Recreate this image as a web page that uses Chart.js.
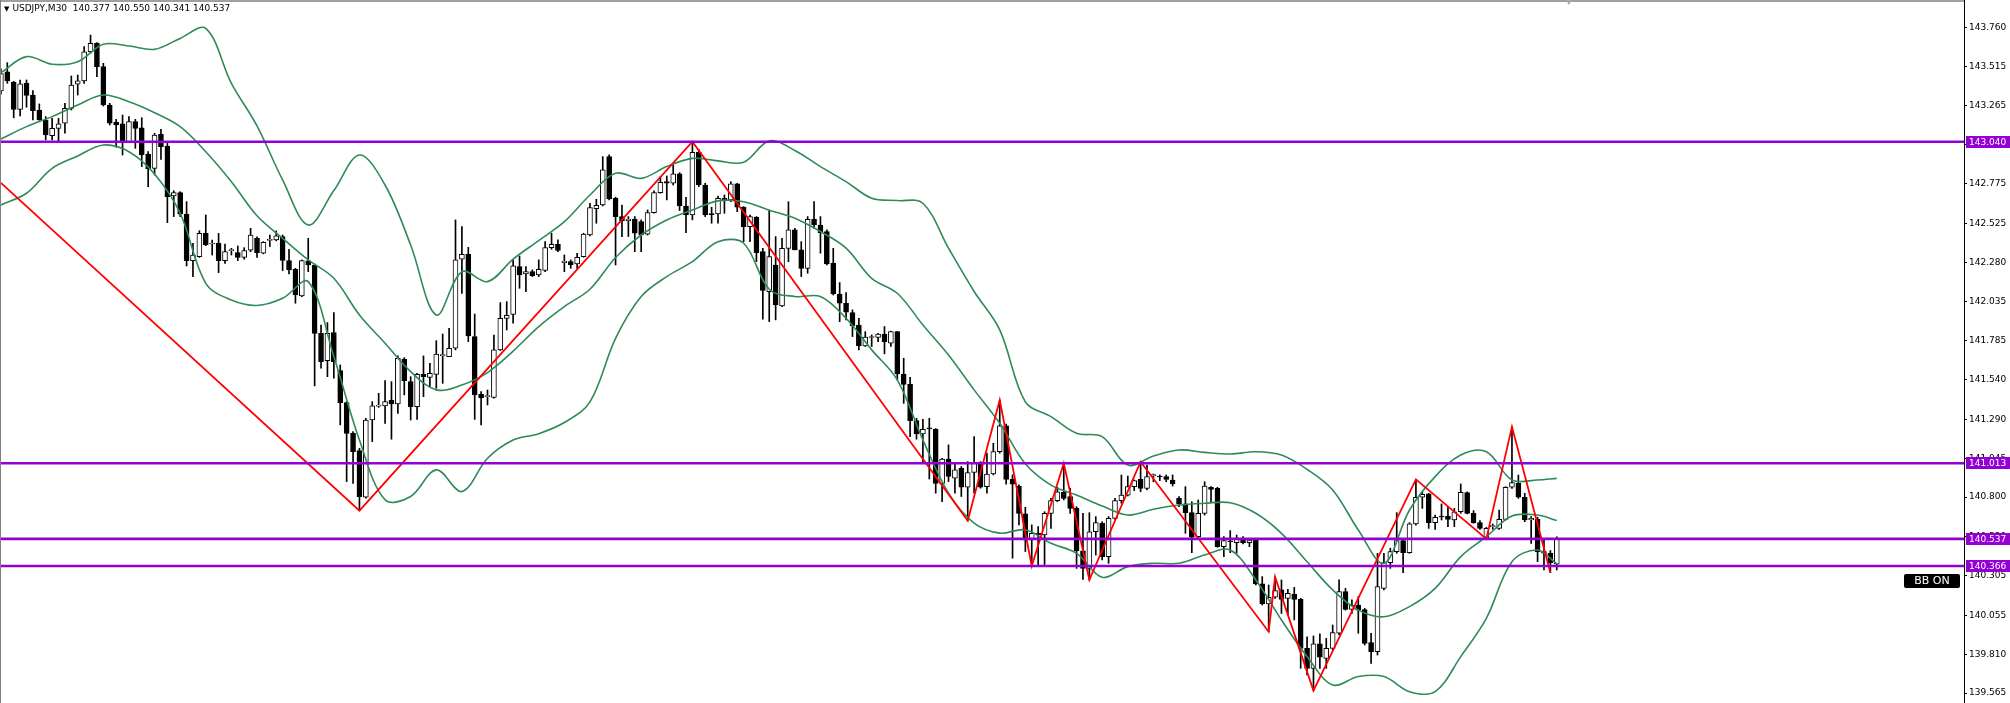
<!DOCTYPE html>
<html>
<head>
<meta charset="utf-8">
<title>USDJPY,M30</title>
<script src="https://cdn.jsdelivr.net/npm/chart.js@4.4.1/dist/chart.umd.min.js"></script>
<style>
  html, body { margin: 0; padding: 0; background: #fff; }
  #wrap { position: relative; width: 2010px; height: 703px; overflow: hidden; }
  #title { position: absolute; left: 4px; top: 2px; font: 9px "DejaVu Sans"; color: #000; white-space: pre; line-height: 13px; }
  #title .tri { font-size: 7px; margin-right: 3px; }
  #bbon { position: absolute; left: 1904px; top: 574px; width: 56px; height: 14px; background: #000; color: #fff;
          border-radius: 2px; font: 11px "DejaVu Sans"; text-align: center; line-height: 14px; }
  #shift { position: absolute; left: 1565px; top: -5px; color: #a8a8a8; font: 10px "DejaVu Sans"; }
</style>
</head>
<body>
<div id="wrap">
  <canvas id="chart" width="2010" height="703"></canvas>
  <div id="title"></div>
  <div id="shift">▼</div>
  <div id="bbon">BB ON</div>
</div>
<script>
// USDJPY M30 candles, left to right
const symbol = "USDJPY";
const timeframe = "M30";

const opens = [
  143.36,143.481,143.416,143.244,143.408,143.334,143.240,143.177,143.078,143.124,
  143.156,143.250,143.402,143.423,143.607,143.660,143.513,143.271,143.162,143.152,
  143.040,143.166,143.128,142.960,142.872,143.086,143.013,142.698,142.719,142.584,
  142.290,142.315,142.462,142.395,142.399,142.290,142.353,142.341,142.311,142.357,
  142.431,142.337,142.418,142.421,142.442,142.291,142.236,142.068,142.289,142.263,
  141.832,141.660,141.837,141.597,141.396,141.202,141.093,140.799,141.286,141.373,
  141.375,141.412,141.387,141.669,141.528,141.370,141.574,141.555,141.574,141.692,
  141.685,141.738,142.299,142.330,141.811,141.448,141.433,141.429,141.728,141.927,
  141.952,142.253,142.207,142.221,142.200,142.228,142.372,142.393,142.278,142.284,
  142.270,142.316,142.452,142.618,142.641,142.946,142.683,142.568,142.541,142.553,
  142.536,142.457,142.593,142.719,142.788,142.778,142.837,142.635,142.578,142.973,
  142.767,142.585,142.585,142.683,142.673,142.774,142.627,142.505,142.564,142.347,
  142.095,142.263,142.005,142.368,142.484,142.358,142.242,142.551,142.515,142.473,
  142.274,142.080,142.022,141.963,141.885,141.753,141.806,141.806,141.827,141.770,
  141.843,141.576,141.511,141.282,141.198,141.232,141.228,140.887,141.039,140.919,
  140.982,140.862,140.955,141.013,140.866,140.946,141.087,141.249,140.912,140.870,
  140.694,140.530,140.572,140.561,140.698,140.778,140.830,140.803,140.729,140.462,
  140.351,140.582,140.635,140.425,140.666,140.778,140.813,140.866,140.912,140.855,
  140.935,140.929,140.929,140.908,140.792,140.757,140.702,140.551,140.698,140.862,
  140.855,140.488,140.521,140.513,140.538,140.513,140.530,140.253,140.127,140.169,
  140.215,140.162,140.189,140.156,139.847,139.721,139.875,139.784,139.847,139.942,
  140.204,140.093,140.120,140.092,139.883,139.826,140.225,140.387,140.457,140.526,
  140.450,140.631,140.799,140.820,140.639,140.679,140.681,140.656,140.708,140.828,
  140.698,140.639,140.540,140.614,140.603,140.660,140.862,140.887,140.799,140.656,
  140.660,140.457,140.446,140.377
];
const highs = [
  143.50,143.538,143.420,143.429,143.429,143.362,143.278,143.198,143.187,143.187,
  143.282,143.454,143.460,143.639,143.712,143.664,143.534,143.282,143.181,143.208,
  143.198,143.181,143.191,142.977,143.093,143.118,143.040,142.731,142.725,142.662,
  142.399,142.479,142.578,142.420,142.462,142.395,142.368,142.383,142.372,142.494,
  142.441,142.410,142.452,142.478,142.452,142.362,142.242,142.295,142.431,142.269,
  141.885,141.900,141.963,141.633,141.402,141.213,141.108,141.297,141.402,141.454,
  141.534,141.528,141.690,141.679,141.559,141.580,141.690,141.643,141.786,141.828,
  141.864,142.547,142.505,142.374,141.954,141.465,141.475,141.822,142.026,142.032,
  142.295,142.320,142.253,142.232,142.295,142.410,142.463,142.421,142.326,142.295,
  142.337,142.463,142.652,142.677,142.946,142.957,142.690,142.641,142.568,142.568,
  142.547,142.610,142.730,142.820,142.824,142.893,142.845,142.690,143.040,142.992,
  142.778,142.627,142.698,142.704,142.788,142.778,142.631,142.578,142.568,142.368,
  142.610,142.442,142.431,142.662,142.494,142.410,142.568,142.662,142.568,142.484,
  142.368,142.152,142.089,141.980,141.927,141.843,141.822,141.833,141.875,141.847,
  141.845,141.675,141.555,141.297,141.291,141.297,141.232,141.045,141.129,141.013,
  140.993,141.024,141.181,141.024,141.077,141.139,141.412,141.261,140.940,140.877,
  140.736,140.625,140.614,140.708,140.792,140.862,141.013,140.855,140.740,140.698,
  140.702,140.677,140.645,140.677,140.792,140.939,140.933,140.908,141.023,141.002,
  140.946,140.940,140.940,140.940,140.803,140.866,140.771,140.782,140.897,140.866,
  140.862,140.551,140.589,140.561,140.551,140.540,140.534,140.299,140.246,140.297,
  140.278,140.219,140.231,140.162,139.920,139.925,139.938,139.910,139.994,140.278,
  140.225,140.152,140.173,140.099,139.942,140.446,140.446,140.478,140.702,140.530,
  140.639,140.912,140.834,140.824,140.687,140.757,140.740,140.729,140.883,140.834,
  140.715,140.652,140.610,140.631,140.719,140.866,141.244,140.939,140.824,140.677,
  140.673,140.530,140.463,140.550
];
const lows = [
  143.34,143.408,143.191,143.202,143.257,143.177,143.175,143.051,143.051,143.040,
  143.093,143.240,143.334,143.408,143.597,143.450,143.265,143.145,143.005,142.956,
  143.035,142.998,142.883,142.757,142.830,142.929,142.530,142.568,142.568,142.257,
  142.189,142.311,142.385,142.326,142.215,142.273,142.326,142.290,142.299,142.347,
  142.311,142.333,142.379,142.415,142.228,142.207,142.022,142.063,142.221,141.501,
  141.612,141.559,141.549,141.255,140.898,140.887,140.715,140.793,141.150,141.366,
  141.265,141.165,141.328,141.444,141.286,141.290,141.433,141.496,141.486,141.517,
  141.685,141.728,142.084,141.780,141.290,141.255,141.381,141.423,141.724,141.853,
  141.896,142.116,142.095,142.190,142.190,142.221,142.362,142.347,142.221,142.242,
  142.242,142.312,142.446,142.526,142.635,142.673,142.263,142.442,142.442,142.347,
  142.347,142.452,142.589,142.715,142.673,142.767,142.606,142.467,142.547,142.757,
  142.568,142.526,142.526,142.589,142.662,142.599,142.410,142.410,142.284,141.921,
  141.906,141.917,142.001,142.284,142.358,142.190,142.211,142.494,142.337,142.263,
  142.074,141.906,141.917,141.812,141.728,141.749,141.749,141.780,141.703,141.749,
  141.538,141.391,141.181,141.165,141.013,140.914,140.825,140.772,140.898,140.825,
  140.804,140.651,140.825,140.856,140.825,140.940,141.077,140.881,140.415,140.625,
  140.457,140.366,140.370,140.375,140.603,140.771,140.782,140.698,140.351,140.282,
  140.278,140.435,140.404,140.383,140.660,140.761,140.807,140.841,140.834,140.845,
  140.897,140.904,140.897,140.870,140.740,140.572,140.450,140.540,140.687,140.771,
  140.484,140.425,140.450,140.446,140.505,140.488,140.246,140.120,139.952,140.162,
  140.067,140.057,140.026,139.721,139.679,139.581,139.721,139.721,139.837,139.931,
  140.088,140.067,139.942,139.868,139.752,139.805,140.215,140.351,140.446,140.324,
  140.446,140.624,140.729,140.603,140.597,140.656,140.614,140.614,140.698,140.694,
  140.635,140.597,140.537,140.597,140.597,140.656,140.855,140.792,140.645,140.509,
  140.393,140.341,140.324,140.341
];
const closes = [
  143.47,143.423,143.244,143.404,143.332,143.236,143.177,143.082,143.124,143.152,
  143.250,143.397,143.423,143.607,143.660,143.513,143.271,143.156,143.145,143.040,
  143.166,143.124,142.956,142.868,143.082,143.009,142.694,142.719,142.584,142.290,
  142.326,142.462,142.389,142.399,142.290,142.347,142.357,142.311,142.353,142.452,
  142.341,142.406,142.422,142.446,142.291,142.232,142.074,142.291,142.263,141.832,
  141.654,141.832,141.654,141.396,141.202,141.087,140.803,141.286,141.375,141.377,
  141.402,141.387,141.675,141.534,141.370,141.574,141.559,141.580,141.702,141.697,
  141.738,142.295,142.330,141.816,141.444,141.427,141.437,141.728,141.927,141.946,
  142.257,142.200,142.221,142.196,142.236,142.372,142.393,142.354,142.288,142.263,
  142.312,142.457,142.624,142.639,142.862,142.679,142.568,142.541,142.553,142.463,
  142.452,142.593,142.719,142.784,142.778,142.837,142.635,142.578,142.973,142.767,
  142.578,142.580,142.683,142.673,142.774,142.627,142.505,142.568,142.341,142.102,
  142.316,142.011,142.368,142.484,142.358,142.242,142.551,142.515,142.467,142.270,
  142.080,142.022,141.965,141.879,141.753,141.808,141.810,141.827,141.780,141.843,
  141.576,141.511,141.282,141.198,141.228,141.230,140.887,141.039,140.930,140.972,
  140.862,140.955,141.013,140.862,140.946,141.087,141.249,140.912,140.881,140.698,
  140.530,140.572,140.561,140.698,140.778,140.834,140.792,140.729,140.462,140.351,
  140.582,140.639,140.425,140.666,140.778,140.813,140.866,140.904,140.855,140.929,
  140.935,140.927,140.912,140.883,140.757,140.702,140.547,140.698,140.870,140.849,
  140.488,140.526,140.519,140.534,140.513,140.530,140.253,140.127,140.169,140.211,
  140.156,140.194,140.156,139.847,139.721,139.875,139.791,139.847,139.946,140.204,
  140.093,140.120,140.088,139.878,139.826,140.236,140.387,140.457,140.526,140.450,
  140.631,140.799,140.817,140.639,140.673,140.675,140.660,140.708,140.830,140.698,
  140.639,140.603,140.603,140.614,140.660,140.862,140.891,140.799,140.656,140.666,
  140.457,140.446,140.387,140.537
];

// Bollinger bands, every 4th bar
const bandIdx = [0,4,8,12,16,20,24,28,32,36,40,44,48,52,56,60,64,68,72,76,80,84,88,92,96,100,
  104,108,112,116,120,124,128,132,136,140,144,148,152,156,160,164,168,172,176,180,184,188,192,196,
  200,204,208,212,216,220,224,228,232,236,240,243];
const bbUpper = [
  143.475,143.576,143.528,143.544,143.654,143.643,143.622,143.691,143.754,143.408,
  143.14,142.799,142.515,142.732,142.956,142.767,142.389,141.948,142.221,142.158,
  142.30,142.417,142.536,142.704,142.841,142.809,142.883,142.935,142.919,142.910,
  143.045,142.985,142.883,142.788,142.684,142.669,142.652,142.369,142.096,141.854,
  141.40,141.307,141.202,141.181,141.002,141.059,141.097,141.082,141.072,141.086,
  141.065,140.975,140.845,140.593,140.383,140.719,140.929,141.065,141.086,140.908,
  140.908,140.918
];
const bbMiddle = [
  143.057,143.135,143.198,143.271,143.334,143.292,143.223,143.135,142.977,142.788,
  142.573,142.431,142.295,142.179,141.948,141.770,141.591,141.476,141.507,141.585,
  141.72,141.875,142.001,142.11,142.31,142.452,142.547,142.610,142.667,142.662,
  142.608,142.558,142.474,142.369,142.179,142.085,141.885,141.696,141.476,141.266,
  141.01,140.876,140.813,140.744,140.687,140.723,140.750,140.761,140.765,140.698,
  140.572,140.393,140.215,140.088,140.046,140.110,140.225,140.425,140.551,140.681,
  140.687,140.652
];
const bbLower = [
  142.641,142.715,142.872,142.950,143.019,142.977,142.836,142.589,142.147,142.042,
  142.008,142.053,142.158,141.686,141.160,140.783,140.804,140.972,140.835,141.045,
  141.160,141.20,141.27,141.40,141.801,142.064,142.190,142.284,142.410,142.40,
  142.11,142.064,142.064,141.927,141.728,141.539,141.161,140.825,140.636,140.573,
  140.594,140.509,140.446,140.295,140.362,140.383,140.383,140.435,140.467,140.278,
  140.026,139.795,139.616,139.669,139.669,139.574,139.574,139.795,140.036,140.393,
  140.467,140.379
];

// ZigZag turning points
const zzIdx = [0,56,108,151,156,161,166,170,178,198,199,205,221,232,236,242];
const zzVal = [142.78,140.715,143.040,140.651,141.412,140.366,141.013,140.278,141.023,139.952,
  140.297,139.581,140.912,140.537,141.244,140.324];

// horizontal levels
const levels = [143.040, 141.013, 140.537, 140.366];

// price scale labels
const priceTicks = [143.760,143.515,143.265,143.020,142.775,142.525,142.280,142.035,141.785,
  141.540,141.290,141.045,140.800,140.550,140.305,140.055,139.810,139.565];

const yMin = 139.5025, yMax = 143.933;
const xMin = -0.14, xMax = 306.6;

const last = opens.length - 1;
document.getElementById("title").innerHTML =
  '<span class="tri">▼</span>' + symbol + "," + timeframe + "  " +
  [opens[last], highs[last], lows[last], closes[last]].map(v => v.toFixed(3)).join(" ");

const wicks = [], bodies = [], bodyFill = [];
for (let i = 0; i < opens.length; i++) {
  wicks.push({ x: i, y: [lows[i], highs[i]] });
  bodies.push({ x: i, y: [opens[i], closes[i]] });
  bodyFill.push(closes[i] >= opens[i] ? "#ffffff" : "#000000");
}
const band = arr => bandIdx.map((x, k) => ({ x: x, y: arr[k] }));

const levelLines = levels.map(v => ({
  type: "line",
  data: [{ x: xMin, y: v }, { x: xMax, y: v }],
  borderColor: "#9400d3",
  borderWidth: 2.6,
  pointRadius: 0,
  order: 1
}));

// purple price tags on the axis + chart frame
const tags = {
  id: "tags",
  afterDraw(chart) {
    const { ctx, chartArea, scales } = chart;
    ctx.save();
    ctx.fillStyle = "#a0a0a0";
    ctx.fillRect(0, 0, chartArea.right, 2);
    ctx.fillStyle = "#808080";
    ctx.fillRect(0, 0, 1, chartArea.bottom);
    ctx.font = '9px "DejaVu Sans"';
    ctx.textBaseline = "middle";
    levels.forEach(v => {
      const py = Math.round(scales.y.getPixelForValue(v));
      ctx.fillStyle = "#9400d3";
      ctx.fillRect(chartArea.right + 2, py - 6, 46, 12);
      ctx.fillStyle = "#ffffff";
      ctx.fillText(v.toFixed(3), chartArea.right + 5, py + 0.5);
    });
    ctx.restore();
  }
};

new Chart(document.getElementById("chart"), {
  type: "bar",
  data: {
    datasets: [
      {
        data: wicks,
        backgroundColor: "#000",
        borderWidth: 0,
        barThickness: 1,
        grouped: false,
        order: 10
      },
      {
        data: bodies,
        backgroundColor: bodyFill,
        borderColor: "#000",
        borderWidth: 1,
        borderSkipped: false,
        barThickness: 5,
        minBarLength: 1,
        grouped: false,
        order: 9
      },
      { type: "line", data: band(bbUpper), borderColor: "#2e8b57", borderWidth: 1.6, pointRadius: 0, tension: 0.35, order: 5 },
      { type: "line", data: band(bbMiddle), borderColor: "#2e8b57", borderWidth: 1.6, pointRadius: 0, tension: 0.35, order: 5 },
      { type: "line", data: band(bbLower), borderColor: "#2e8b57", borderWidth: 1.6, pointRadius: 0, tension: 0.35, order: 5 },
      {
        type: "line",
        data: zzIdx.map((x, k) => ({ x: x, y: zzVal[k] })),
        borderColor: "#ff0000",
        borderWidth: 1.8,
        pointRadius: 0,
        tension: 0,
        order: 2
      },
      ...levelLines
    ]
  },
  options: {
    responsive: false,
    animation: false,
    events: [],
    layout: { padding: 0 },
    plugins: { legend: { display: false }, tooltip: { enabled: false } },
    scales: {
      x: { type: "linear", display: false, min: xMin, max: xMax, offset: false },
      y: {
        position: "right",
        min: yMin,
        max: yMax,
        afterFit: s => { s.width = 46; s.paddingTop = 0; s.paddingBottom = 0; },
        afterBuildTicks: s => { s.ticks = priceTicks.map(v => ({ value: v })); },
        border: { display: true, color: "#000", width: 1 },
        grid: { drawOnChartArea: false, drawTicks: true, tickLength: 3, color: "#000" },
        ticks: {
          autoSkip: false,
          crossAlign: "near",
          padding: 2,
          color: "#000",
          font: { family: "DejaVu Sans", size: 9 },
          callback: v => v.toFixed(3)
        }
      }
    }
  },
  plugins: [tags]
});
</script>
</body>
</html>
